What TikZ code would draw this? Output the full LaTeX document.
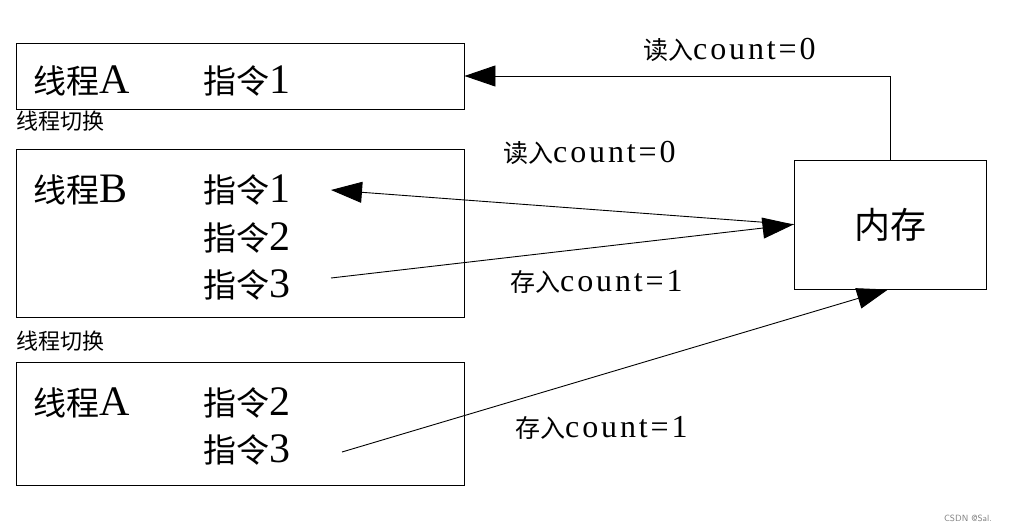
\documentclass[tikz,border=0pt]{standalone}
\usepackage{fontspec}
\setmainfont{Liberation Serif}
\newfontfamily\lat[LetterSpace=9]{Liberation Serif}
\newfontfamily\cjk{Noto Sans CJK SC}
\usetikzlibrary{arrows.meta}
\newcommand{\bigtxt}[2]{{\fontsize{33}{36}\selectfont\cjk #1}{\fontsize{42}{44}\selectfont #2}}
\newcommand{\labtxt}[2]{{\fontsize{25}{28}\selectfont\cjk #1}{\fontsize{32}{34}\selectfont\lat #2}}
\begin{document}
\begin{tikzpicture}[x=1pt,y=-1pt,
  box/.style={draw,line width=0.9pt,inner sep=0pt,minimum width=#1},
  big/.style={inner sep=0pt,anchor=base west},
  lab/.style={inner sep=0pt,anchor=base west},
  small/.style={font=\fontsize{22}{24}\selectfont,inner sep=0pt,anchor=base west},
  arr/.style={line width=0.9pt,-{Triangle[length=31pt,width=21pt]}}]
\useasboundingbox (0,0) rectangle (1014,532);
% boxes
\node[box=448pt,minimum height=66pt] (b1) at (240,76) {};
\node[box=448pt,minimum height=168pt] (b2) at (240,233) {};
\node[box=448pt,minimum height=123pt] (b3) at (240,423.5) {};
\node[box=192pt,minimum height=129pt] (mem) at (890,224.5) {};
% texts
\node[big] (t1a) at (33,94) {\bigtxt{线程}{A}};
\node[big] (t1b) at (203,94) {\bigtxt{指令}{1}};
\node[small] (sw1) at (16,129) {\cjk 线程切换};
\node[big] (t2a) at (33,202) {\bigtxt{线程}{B}};
\node[big] (t2b) at (203,202) {\bigtxt{指令}{1}};
\node[big] (t2c) at (203,250) {\bigtxt{指令}{2}};
\node[big] (t2d) at (203,297) {\bigtxt{指令}{3}};
\node[small] (sw2) at (16,349) {\cjk 线程切换};
\node[big] (t3a) at (33,415) {\bigtxt{线程}{A}};
\node[big] (t3b) at (203,415) {\bigtxt{指令}{2}};
\node[big] (t3c) at (203,462) {\bigtxt{指令}{3}};
\node[font=\fontsize{36}{40}\selectfont,inner sep=0pt] (memt) at (mem.center) {\cjk 内存};
% labels
\node[lab] (l1) at (643,60) {\labtxt{读入}{count=0}};
\node[lab] (l2) at (503,162) {\labtxt{读入}{count=0}};
\node[lab] (l3) at (510,291) {\labtxt{存入}{count=1}};
\node[lab] (l4) at (515,437) {\labtxt{存入}{count=1}};
\node[font=\fontsize{9}{10}\selectfont\sffamily,text=gray,inner sep=0pt] (wm) at (968,518) {CSDN @Sal.};
% connectors
\coordinate (c1) at (331,190);
\coordinate (c3) at (331,278);
\coordinate (c4) at (342,452);
\draw[arr] (mem.north) |- (b1.east);
\draw[arr] (mem.west) -- (c1);
\draw[arr] (c3) -- (mem.west);
\draw[arr] (c4) -- (888,289.5);
\end{tikzpicture}
\end{document}
